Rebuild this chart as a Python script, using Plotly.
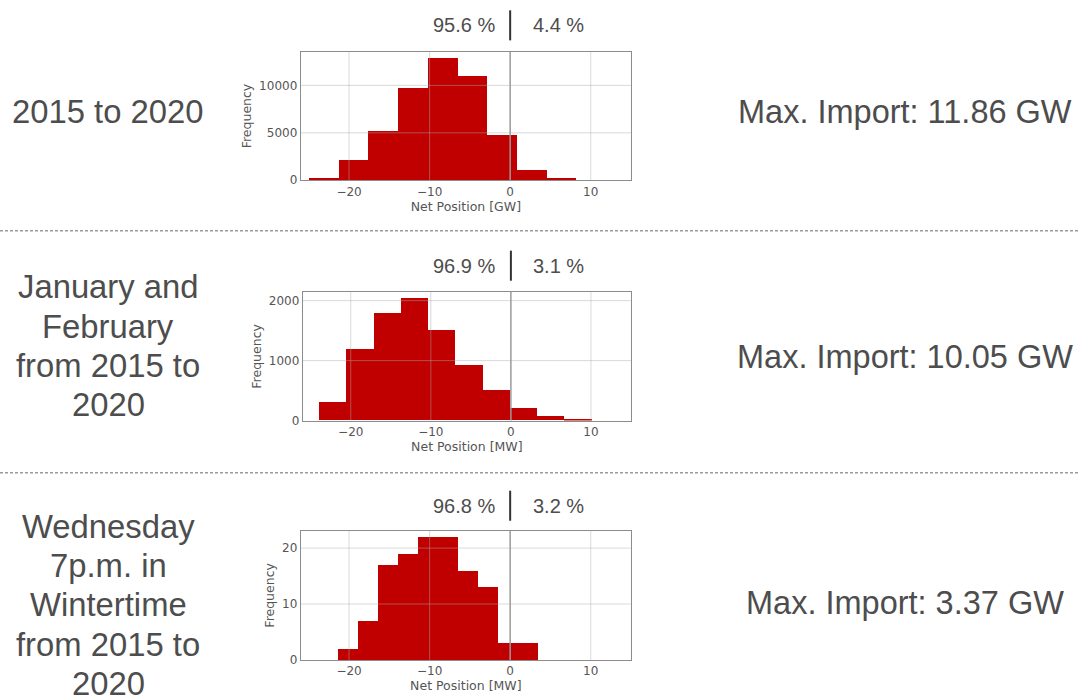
import plotly.graph_objects as go

# ---------------- data ----------------
row_labels = [
    ["2015 to 2020"],
    ["January and", "February", "from 2015 to", "2020"],
    ["Wednesday", "7p.m. in", "Wintertime", "from 2015 to", "2020"],
]
max_import = ["Max. Import: 11.86 GW", "Max. Import: 10.05 GW", "Max. Import: 3.37 GW"]
share_export = ["95.6 %", "96.9 %", "96.8 %"]
share_import = ["4.4 %", "3.1 %", "3.2 %"]
x_titles = ["Net Position [GW]", "Net Position [MW]", "Net Position [MW]"]

edges_1 = [-25.0, -21.31, -17.63, -13.94, -10.26, -6.57, -2.88, 0.80, 4.49, 8.17, 11.86]
counts_1 = [300, 2150, 5200, 9800, 12900, 11000, 4800, 1150, 250, 15]
edges_2 = [-24.0, -20.6, -17.19, -13.79, -10.38, -6.98, -3.57, -0.17, 3.24, 6.65, 10.05]
counts_2 = [300, 1190, 1800, 2040, 1510, 930, 510, 200, 70, 15]
edges_3 = [-21.45, -18.97, -16.49, -14.0, -11.52, -9.04, -6.56, -4.08, -1.59, 0.89, 3.37]
counts_3 = [2, 7, 17, 19, 22, 22, 16, 13, 3, 3]

y_ticks = [[0, 5000, 10000], [0, 1000, 2000], [0, 10, 20]]
x_ticks = [-20, -10, 0, 10]

# ---------------- layout geometry (pixels of the target picture) ----------------
W, H = 1079, 695
FIG_H = 703  # page height; the photographed viewport maps it onto 695 px
panels = [  # left, right, top, bottom in px
    (300.7, 631, 51.7, 180),
    (302.7, 631, 291.7, 420),
    (300.7, 631, 530, 659),
]
left_line_y = [[110.8], [285.3, 324.6, 363.9, 403.2], [524.7, 563.9, 603.1, 642.3, 681.5]]
right_y = [110.5, 355, 601]
pct_y = [25.3, 265.3, 505]
sep_y = [230.5, 472]

RED = "#c00000"
GRID = "rgba(170,170,170,0.45)"
SPINE = "#8c8c8c"
TXT = "#4d4d4d"
TICKC = "#555555"
BIGFONT = "Liberation Sans, Arial, sans-serif"
SMALLFONT = "DejaVu Sans, sans-serif"

def py(y):
    return 1 - y / H

fig = go.Figure()
all_edges = [edges_1, edges_2, edges_3]
all_counts = [counts_1, counts_2, counts_3]
shapes = []
annotations = []

for i in range(3):
    e = all_edges[i]
    c = all_counts[i]
    centers = [(e[k] + e[k + 1]) / 2 for k in range(len(c))]
    widths = [e[k + 1] - e[k] for k in range(len(c))]
    sfx = "" if i == 0 else str(i + 1)
    fig.add_trace(go.Bar(
        x=centers, y=c, width=widths,
        marker=dict(color=RED, line=dict(width=0)),
        xaxis="x" + sfx, yaxis="y" + sfx, showlegend=False, hoverinfo="x+y",
    ))
    l, r, t, b = panels[i]
    ymax = max(c) * 1.05
    fig.update_layout({
        "xaxis" + sfx: dict(
            domain=[l / W, r / W], range=[-26, 15], anchor="y" + sfx,
            tickvals=x_ticks, ticktext=["\u221220", "\u221210", "0", "10"],
            showgrid=False, zeroline=False,
            showline=True, linecolor=SPINE, linewidth=1, mirror=True,
            ticks="", tickfont=dict(family=SMALLFONT, size=12, color=TICKC),
            title=dict(text=x_titles[i], font=dict(family=SMALLFONT, size=12.5, color=TICKC), standoff=3),
        ),
        "yaxis" + sfx: dict(
            domain=[py(b), py(t)], range=[0, ymax], anchor="x" + sfx,
            tickvals=y_ticks[i], ticktext=[str(v) for v in y_ticks[i]],
            showgrid=False, zeroline=False,
            showline=True, linecolor=SPINE, linewidth=1, mirror=True,
            ticks="", tickfont=dict(family=SMALLFONT, size=12, color=TICKC),
            title=dict(text="Frequency", font=dict(family=SMALLFONT, size=12.5, color=TICKC), standoff=4),
        ),
    })
    xr = "x" + sfx
    yr = "y" + sfx
    # grid lines drawn above the bars
    for tv in x_ticks:
        if tv == 0:
            continue
        shapes.append(dict(type="line", xref=xr, yref=yr + " domain", x0=tv, x1=tv, y0=0, y1=1,
                           line=dict(color=GRID, width=1), layer="above"))
    for tv in y_ticks[i][1:]:
        shapes.append(dict(type="line", xref=xr + " domain", yref=yr, x0=0, x1=1, y0=tv, y1=tv,
                           line=dict(color=GRID, width=1), layer="above"))
    # zero line
    shapes.append(dict(type="line", xref=xr, yref=yr + " domain", x0=0, x1=0, y0=0, y1=1,
                       line=dict(color="#9a9a9a", width=1.5), layer="above"))
    # percentage separator bar
    shapes.append(dict(type="line", xref=xr, yref="paper", x0=0, x1=0,
                       y0=py(pct_y[i] + 15), y1=py(pct_y[i] - 15),
                       line=dict(color="#333333", width=2)))
    annotations.append(dict(text=share_export[i], xref="paper", yref="paper",
                            x=496.5 / W, y=py(pct_y[i]), xanchor="right", yanchor="middle",
                            showarrow=False, font=dict(family=BIGFONT, size=20, color=TXT)))
    annotations.append(dict(text=share_import[i], xref="paper", yref="paper",
                            x=530.5 / W, y=py(pct_y[i]), xanchor="left", yanchor="middle",
                            showarrow=False, font=dict(family=BIGFONT, size=20, color=TXT)))
    # left row label
    for line_txt, yy in zip(row_labels[i], left_line_y[i]):
        annotations.append(dict(text=line_txt, xref="paper", yref="paper",
                                x=108 / W, y=py(yy + 1), xanchor="center", yanchor="middle",
                                showarrow=False, font=dict(family=BIGFONT, size=32.8, color=TXT)))
    # right text
    annotations.append(dict(text=max_import[i], xref="paper", yref="paper",
                            x=905 / W, y=py(right_y[i] + 1), xanchor="center", yanchor="middle",
                            showarrow=False, font=dict(family=BIGFONT, size=32.5, color=TXT)))

for sy in sep_y:
    shapes.append(dict(type="line", xref="paper", yref="paper", x0=0, x1=1, y0=py(sy), y1=py(sy),
                       line=dict(color="#9a9a9a", width=1.5, dash="3px,2px")))

fig.update_layout(
    width=W, height=FIG_H, margin=dict(l=0, r=0, t=0, b=0),
    paper_bgcolor="white", plot_bgcolor="white",
    shapes=shapes, annotations=annotations, bargap=0,
)
fig.write_html("out.html", config={"displayModeBar": False},
               post_script="document.body.style.margin='0';document.body.style.overflow='hidden';")
